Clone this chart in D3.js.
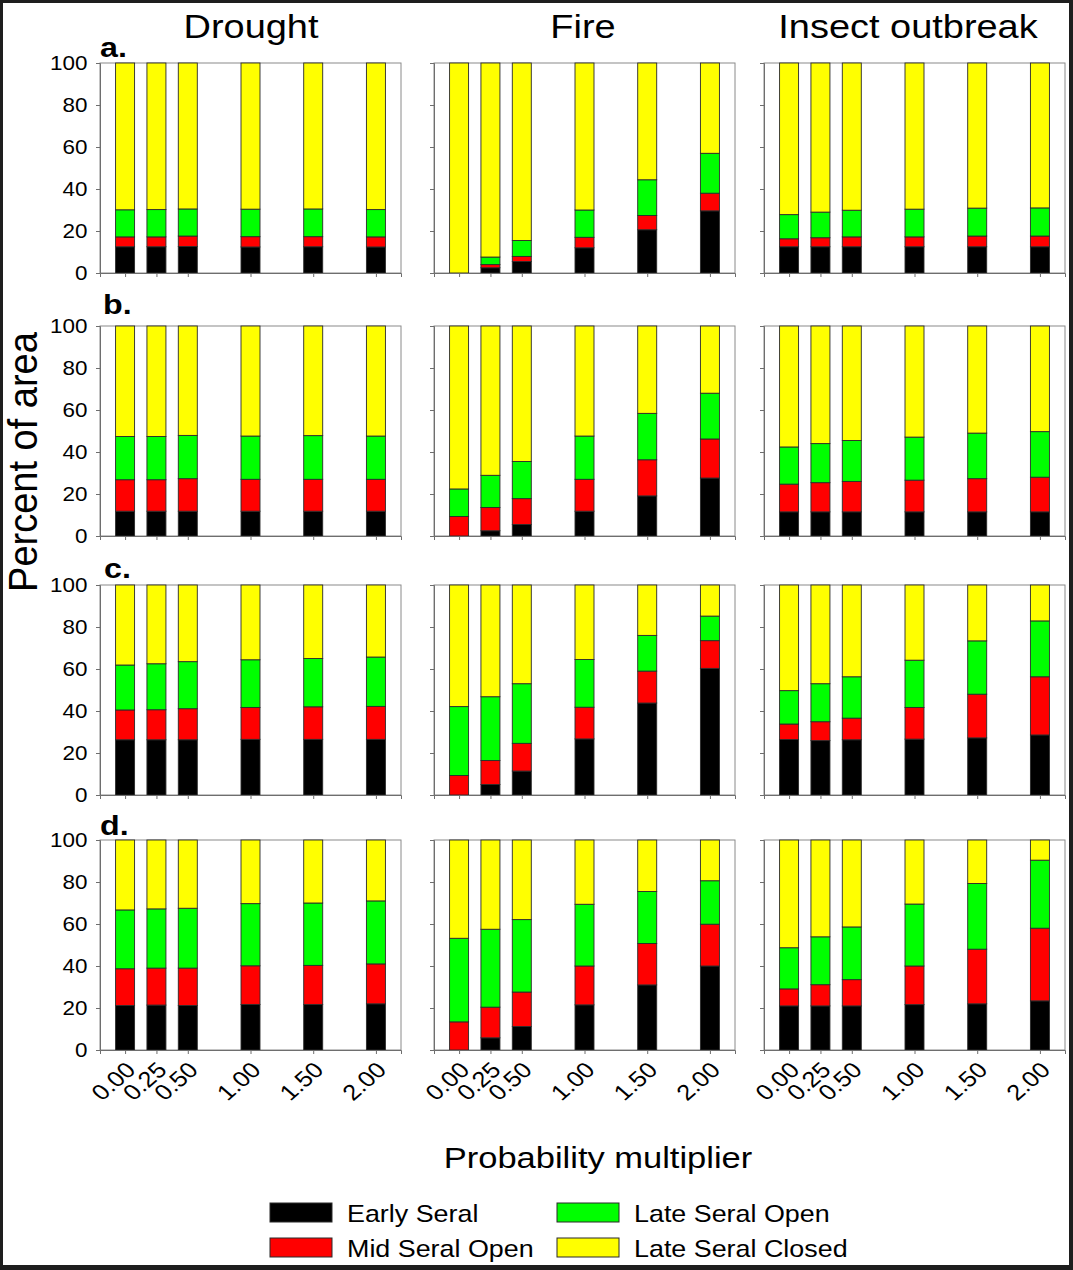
<!DOCTYPE html>
<html>
<head>
<meta charset="utf-8">
<script src="https://cdn.jsdelivr.net/npm/d3@7"></script>
<style>
  html, body { margin: 0; padding: 0; background: #fff; }
  text { font-family: "Liberation Sans", Arial, sans-serif; fill: #000; }
</style>
</head>
<body>
<script>
// ---------------- DATA ----------------
const multipliers = [0, 0.25, 0.5, 1, 1.5, 2];
const disturbances = ["Drought", "Fire", "Insect outbreak"];
const rowLabels = ["a.", "b.", "c.", "d."];
const seriesNames = ["Early Seral", "Mid Seral Open", "Late Seral Open", "Late Seral Closed"];
const seriesColors = ["#000000", "#ff0000", "#00ff00", "#ffff00"];
const yTicks = [0, 20, 40, 60, 80, 100];

// rows a–d, six multipliers each (percent of area per class)
const droughtEarly = [
  [12.5, 12.5, 12.6, 12.4, 12.5, 12.4],
  [11.8, 11.8, 11.8, 11.8, 11.8, 11.8],
  [26.3, 26.3, 26.3, 26.5, 26.5, 26.5],
  [21.2, 21.4, 21.2, 21.7, 21.7, 22.0]
];
const droughtMid = [
  [4.7, 4.7, 5.0, 4.9, 4.8, 4.8],
  [15.0, 15.0, 15.5, 15.2, 15.2, 15.2],
  [14.2, 14.3, 14.8, 15.2, 15.5, 15.7],
  [17.5, 17.6, 17.8, 18.4, 18.6, 19.0]
];
const droughtLateOpen = [
  [12.9, 13.0, 12.9, 13.1, 13.2, 13.0],
  [20.6, 20.6, 20.6, 20.6, 20.8, 20.6],
  [21.4, 21.9, 22.4, 22.7, 23.0, 23.5],
  [28.0, 28.2, 28.5, 29.6, 29.7, 30.0]
];
const droughtLateClosed = [
  [69.9, 69.8, 69.5, 69.6, 69.5, 69.8],
  [52.6, 52.6, 52.1, 52.4, 52.2, 52.4],
  [38.1, 37.5, 36.5, 35.6, 35.0, 34.3],
  [33.3, 32.8, 32.5, 30.3, 30.0, 29.0]
];

const fireEarly = [
  [0, 2.5, 5.5, 12.0, 20.6, 29.6],
  [0, 2.5, 5.5, 11.8, 19.1, 27.6],
  [0, 5.0, 11.4, 26.7, 43.8, 60.3],
  [0, 5.8, 11.2, 21.5, 31.0, 40.0]
];
const fireMid = [
  [0, 1.5, 2.4, 5.0, 6.8, 8.4],
  [9.3, 11.1, 12.3, 15.2, 17.2, 18.6],
  [9.3, 11.4, 13.2, 15.1, 15.2, 13.2],
  [13.4, 14.6, 16.4, 18.5, 19.7, 19.9]
];
const fireLateOpen = [
  [0, 3.6, 7.6, 13.0, 17.0, 19.0],
  [13.1, 15.3, 17.7, 20.6, 22.1, 21.8],
  [32.8, 30.4, 28.4, 22.7, 17.0, 11.7],
  [39.8, 37.1, 34.5, 29.4, 24.8, 20.7]
];
const fireLateClosed = [
  [100, 92.4, 84.5, 70.0, 55.6, 43.0],
  [77.6, 71.1, 64.5, 52.4, 41.6, 32.0],
  [57.9, 53.2, 47.0, 35.5, 24.0, 14.8],
  [46.8, 42.5, 37.9, 30.6, 24.5, 19.4]
];

const insectEarly = [
  [12.5, 12.5, 12.5, 12.5, 12.5, 12.5],
  [11.5, 11.5, 11.5, 11.5, 11.5, 11.5],
  [26.4, 25.9, 26.3, 26.6, 27.2, 28.6],
  [21.0, 21.0, 21.0, 21.6, 22.0, 23.4]
];
const insectMid = [
  [3.8, 4.3, 4.7, 4.7, 5.1, 5.1],
  [13.2, 13.9, 14.5, 15.1, 15.8, 16.5],
  [7.4, 9.0, 10.3, 15.1, 20.8, 27.7],
  [8.1, 10.1, 12.5, 18.4, 26.0, 34.6]
];
const insectLateOpen = [
  [11.5, 12.2, 12.7, 13.2, 13.3, 13.4],
  [17.7, 18.6, 19.5, 20.5, 21.7, 21.7],
  [15.9, 18.1, 19.7, 22.5, 25.4, 26.6],
  [19.6, 22.8, 25.1, 29.5, 31.3, 32.4]
];
const insectLateClosed = [
  [72.2, 71.0, 70.1, 69.6, 69.1, 69.0],
  [57.6, 56.0, 54.5, 52.9, 51.0, 50.3],
  [50.3, 47.0, 43.7, 35.8, 26.6, 17.1],
  [51.3, 46.1, 41.4, 30.5, 20.7, 9.6]
];

const panelSeries = [
  [droughtEarly, droughtMid, droughtLateOpen, droughtLateClosed],
  [fireEarly, fireMid, fireLateOpen, fireLateClosed],
  [insectEarly, insectMid, insectLateOpen, insectLateClosed]
];

// ---------------- LAYOUT ----------------
const W = 1073, H = 1270;
const SX = 1.15;               // horizontal stretch of the original figure text
const colX = [[100, 401], [434, 735], [764, 1065]];
const titleX = [251, 583, 908];
const rowTop = [63, 326, 585, 840];
const panelH = 210;
const rowLabelY = [57, 314, 578, 835];
const rowLabelX = [100, 103, 104, 100];
const barW = 19;
const keys = ["early", "mid", "lateOpen", "lateClosed"];

const svg = d3.select("body").append("svg")
  .attr("width", W).attr("height", H);

svg.append("rect").attr("x", 0).attr("y", 0).attr("width", W).attr("height", H).attr("fill", "#1e1e1e");
svg.append("rect").attr("x", 3).attr("y", 3).attr("width", W - 7).attr("height", H - 8).attr("fill", "#ffffff");

function stext(parent, x, y, str, size, opts = {}) {
  const g = parent.append("g")
    .attr("transform", `translate(${x},${y}) scale(${opts.sx || SX},1)` + (opts.rotate ? ` rotate(${opts.rotate})` : ""));
  return g.append("text")
    .attr("x", 0).attr("y", 0)
    .attr("font-size", size)
    .attr("font-weight", opts.weight || "normal")
    .attr("text-anchor", opts.anchor || "start")
    .text(str);
}

// column titles
disturbances.forEach((d, c) => stext(svg, titleX[c], 38, d, 33, { anchor: "middle" }));

// panels
const stack = d3.stack().keys(keys);

panelSeries.forEach((series, c) => {
  rowTop.forEach((top, r) => {
    const x = d3.scaleLinear().domain([-0.2, 2.2]).range(colX[c]);
    const y = d3.scaleLinear().domain([0, 100]).range([top + panelH, top]);
    const table = multipliers.map((m, i) => ({
      m,
      early: series[0][r][i],
      mid: series[1][r][i],
      lateOpen: series[2][r][i],
      lateClosed: series[3][r][i]
    }));
    const stacked = stack(table);
    const g = svg.append("g");

    // frame
    g.append("rect")
      .attr("x", colX[c][0]).attr("y", top)
      .attr("width", colX[c][1] - colX[c][0]).attr("height", panelH)
      .attr("fill", "none").attr("stroke", "#8a8a8a").attr("stroke-width", 1);

    // bars
    stacked.forEach((layer, k) => {
      g.append("g").selectAll("rect")
        .data(layer.filter(d => d[1] - d[0] > 0))
        .join("rect")
        .attr("x", d => x(d.data.m) - barW / 2)
        .attr("width", barW)
        .attr("y", d => y(d[1]))
        .attr("height", d => y(d[0]) - y(d[1]))
        .attr("fill", seriesColors[k])
        .attr("stroke", "#2a2a2a")
        .attr("stroke-width", 0.9);
    });

    // left axis
    const ya = g.append("g")
      .attr("transform", `translate(${colX[c][0]},0)`)
      .call(d3.axisLeft(y).tickValues(yTicks).tickSize(4).tickPadding(7));
    ya.select(".domain").attr("stroke", "#6e6e6e");
    ya.selectAll(".tick line").attr("stroke", "#6e6e6e");
    ya.selectAll(".tick text")
      .attr("font-size", 19.5)
      .attr("font-family", "Liberation Sans, Arial, sans-serif")
      .attr("transform", `scale(${SX},1)`)
      .style("display", c === 0 ? null : "none");

    // bottom axis
    const xa = g.append("g")
      .attr("transform", `translate(0,${top + panelH})`)
      .call(d3.axisBottom(x).tickValues(multipliers).tickSize(4).tickFormat(d3.format(".2f")));
    xa.select(".domain").attr("stroke", "#6e6e6e");
    xa.selectAll(".tick line").attr("stroke", "#6e6e6e");
    xa.selectAll(".tick text")
      .attr("font-size", 22)
      .attr("font-family", "Liberation Sans, Arial, sans-serif")
      .attr("text-anchor", "end")
      .attr("x", 0).attr("y", 0).attr("dy", "0.35em")
      .attr("transform", `translate(5,16) scale(${SX},1) rotate(-45)`)
      .style("display", r === 3 ? null : "none");
  });
});

// row labels
rowLabels.forEach((l, r) => stext(svg, rowLabelX[r], rowLabelY[r], l, 28, { weight: "bold" }));

// axis titles
stext(svg, 598, 1168, "Probability multiplier", 30, { anchor: "middle" });
stext(svg, 37, 462, "Percent of area", 38, { anchor: "middle", rotate: -90, sx: 1.05 });

// legend
const legendPos = [
  { x: 270, y: 1203 },
  { x: 270, y: 1238 },
  { x: 557, y: 1203 },
  { x: 557, y: 1238 }
];
const lg = svg.append("g");
seriesNames.forEach((name, k) => {
  const p = legendPos[k];
  lg.append("rect")
    .attr("x", p.x).attr("y", p.y).attr("width", 62).attr("height", 19)
    .attr("fill", seriesColors[k]).attr("stroke", "#2a2a2a").attr("stroke-width", 1);
  stext(lg, p.x + 77, p.y + 19, name, 24, { sx: 1.12 });
});
</script>
</body>
</html>
